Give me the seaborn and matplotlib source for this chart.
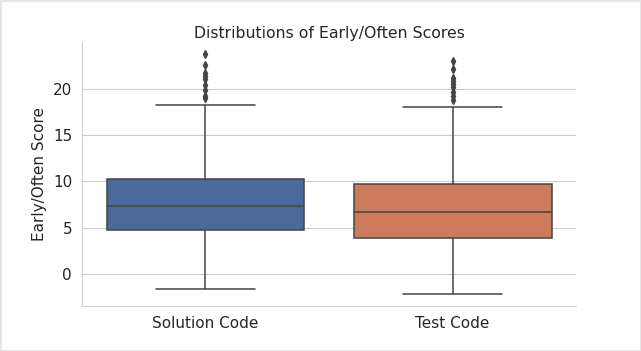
import matplotlib
matplotlib.use("Agg")
import matplotlib.pyplot as plt
import seaborn as sns
import pandas as pd

categories = ["Solution Code", "Test Code"]
box_colors = ["#4a6b99", "#cc7c5d"]

solution_scores = [
    -1.66, 0.5, 1.5, 2.2, 2.8, 3.3, 3.7, 4.0, 4.3, 4.6,
    4.79, 5.1, 5.4, 5.7, 6.0, 6.3, 6.6, 6.8, 7.0, 7.2,
    7.38, 7.6, 7.9, 8.2, 8.5, 8.8, 9.1, 9.4, 9.8, 10.1,
    10.31, 18.31,
    19.05, 19.3, 19.9, 20.5, 21.05, 21.4, 21.72, 22.62, 23.78,
]

test_scores = [
    -2.2, 0.0, 1.0, 1.7, 2.2, 2.6, 3.0, 3.3, 3.55, 3.75,
    3.9, 4.2, 4.5, 4.8, 5.1, 5.4, 5.7, 6.0, 6.3, 6.55,
    6.74, 7.0, 7.3, 7.6, 7.9, 8.2, 8.5, 8.8, 9.1, 9.45,
    9.71, 18.1,
    18.83, 19.3, 19.7, 20.2, 20.6, 20.9, 21.18, 22.19, 23.09,
]

df = pd.DataFrame({
    "Code": [categories[0]] * len(solution_scores) + [categories[1]] * len(test_scores),
    "Early/Often Score": solution_scores + test_scores,
})

sns.set_style("whitegrid")
plt.rcParams["font.family"] = ["DejaVu Sans"]

fig = plt.figure(figsize=(6.41, 3.51), dpi=100, linewidth=2, edgecolor="#e6e6e6")
ax = fig.add_axes([0.1276, 0.128, 0.7714, 0.7515])

sns.boxplot(
    data=df, x="Code", y="Early/Often Score", hue="Code",
    palette=box_colors, saturation=1, ax=ax, legend=False,
    linecolor="#444444", linewidth=1.1,
    flierprops=dict(marker="d", markersize=4.2, markerfacecolor="#444444",
                    markeredgecolor="#444444"),
)

ax.set_title("Distributions of Early/Often Scores", fontsize=11.3, pad=3)
ax.set_xlabel("")
ax.set_ylabel("Early/Often Score", fontsize=11)
ax.tick_params(axis="both", labelsize=11)
ax.set_yticks([0, 5, 10, 15, 20])
ax.grid(axis="x", visible=False)
sns.despine(ax=ax)
for s in ["left", "bottom"]:
    ax.spines[s].set_color("#d0d0d0")

fig.savefig("out.png", dpi=100, edgecolor=fig.get_edgecolor())
